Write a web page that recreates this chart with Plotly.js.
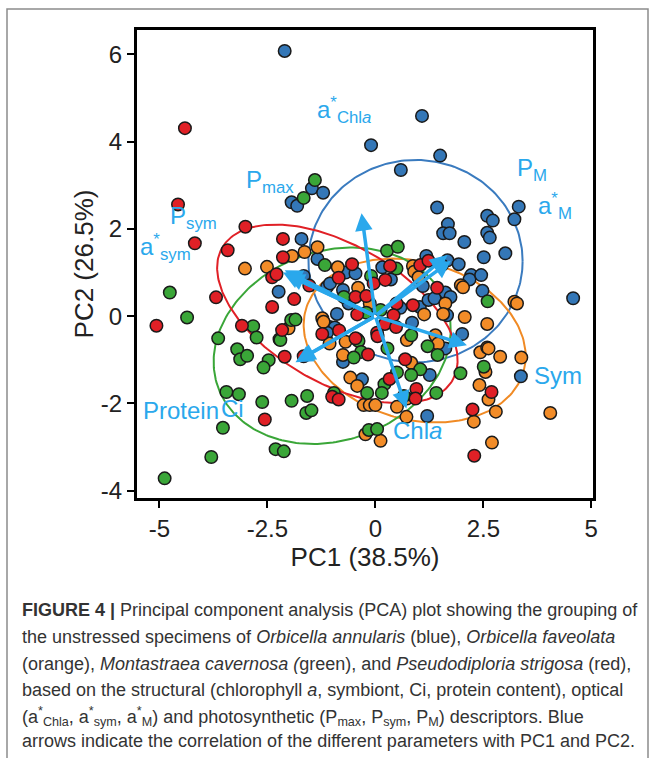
<!DOCTYPE html>
<html><head><meta charset="utf-8">
<script src="https://cdn.plot.ly/plotly-3.0.1.min.js"></script>
<style>html,body{margin:0;padding:0;background:#fff}#chart{width:655px;height:758px}</style>
</head><body><div id="chart"></div>
<script>
// ---- data ----
const blueX = [-2.10,-0.10,1.08,1.50,0.59,-1.47,-1.21,-1.94,-1.81,1.43,3.32,3.22,2.59,2.72,1.68,1.57,1.72,2.59,2.65,2.06,3.01,2.51,-1.71,-1.34,1.18,1.67,1.93,1.54,0.16,2.22,2.18,2.45,2.48,1.62,1.74,1.66,-1.66,-1.12,-1.05,-2.24,-0.89,-0.69,-0.46,0.36,1.10,-0.75,-0.62,0.58,1.03,1.23,1.37,0.85,2.01,1.62,3.37,4.58,1.26,-0.31,-0.75,1.20,-1.06,-0.94,-1.12];
const blueY = [6.08,3.92,4.59,3.68,3.35,2.93,2.83,2.61,2.53,2.49,2.51,2.22,2.30,2.19,2.11,1.90,1.90,1.91,1.80,1.70,1.44,1.35,1.77,1.31,1.38,1.28,1.19,1.17,1.12,0.94,0.84,0.94,0.58,0.54,0.44,0.02,0.92,0.67,0.75,0.56,0.05,1.00,0.98,0.84,0.69,0.60,0.29,0.19,0.21,0.37,0.41,-0.15,-0.41,-0.74,-1.38,0.41,-1.35,-1.45,-1.05,-2.29,-0.25,-0.26,-0.38];

const orangeX = [-1.93,-1.64,-1.34,-3.02,-2.51,-0.87,0.87,0.90,1.00,1.98,2.03,3.22,3.28,1.62,1.57,2.07,-2.01,-1.23,-0.40,-0.13,1.13,-0.69,-0.42,-0.75,0.73,1.39,0.83,-0.58,-0.42,0.73,-0.27,-0.13,0.00,0.50,0.72,-0.23,0.12,2.59,2.43,2.59,2.62,2.89,3.38,2.55,2.41,2.62,2.79,2.28,4.05,2.70,-1.20,-1.06,1.45];
const orangeY = [1.38,1.47,1.58,1.09,1.13,1.12,1.15,1.02,0.89,0.71,0.66,0.33,0.29,0.29,0.05,-0.02,-0.28,-0.05,0.65,0.29,0.04,-0.59,-0.53,-0.89,-0.55,-0.44,-1.07,-1.41,-1.60,-1.89,-2.04,-2.04,-2.04,-2.08,-2.31,-2.71,-2.86,-0.18,-0.83,-0.72,-0.74,-0.93,-0.95,-1.28,-1.58,-1.91,-2.19,-2.42,-2.22,-2.90,-0.13,-0.63,-0.63];

const greenX = [-1.40,-1.66,-1.17,0.27,0.52,2.60,-4.76,-4.36,-2.83,-2.75,-3.64,-3.20,-3.13,-2.97,-2.47,-2.59,-2.22,-1.95,-1.85,-3.45,-3.16,-2.62,-1.94,-1.58,-1.60,-1.48,-3.53,-2.31,-2.12,-3.80,-4.88,-0.96,-0.15,0.04,-0.19,0.49,-0.10,-0.73,-0.21,0.12,-0.39,-0.33,-0.50,0.28,0.83,1.21,1.44,1.04,0.50,0.83,0.21,0.15,0.66,1.41,-2.20,2.51,1.97];
const greenY = [3.12,2.71,1.17,1.50,1.59,0.34,0.54,-0.03,-0.23,-0.49,-0.51,-0.76,-0.99,-0.91,-1.01,-1.18,-0.53,-0.09,-0.08,-1.74,-1.79,-1.97,-1.94,-1.83,-2.22,-2.16,-2.56,-3.05,-3.10,-3.23,-3.72,-1.76,-2.61,-2.59,-1.76,1.09,0.92,0.44,0.08,0.14,-0.57,-0.82,-0.95,-0.74,-0.44,-0.69,-0.89,-1.22,-1.29,-1.35,-1.56,-1.76,-1.83,-1.76,-0.55,-1.16,-1.31];

const redX = [-4.41,-4.57,-4.18,-3.01,-3.42,-2.14,-2.14,-0.54,1.04,1.23,0.34,-2.39,-2.29,-1.53,-0.85,-1.88,-2.39,-3.69,-5.07,-3.09,-2.10,-1.66,-2.16,-2.56,-1.00,-0.85,-0.04,0.23,1.43,-0.46,-0.21,0.49,-0.42,0.42,0.87,-0.46,-0.17,0.04,0.05,0.22,0.48,0.69,0.33,0.95,0.93,2.69,2.25,2.29,-1.23,-0.84];
const redY = [4.31,2.56,1.67,2.05,1.51,1.77,1.35,1.19,1.17,1.27,1.15,0.89,0.96,0.70,0.88,0.39,0.21,0.43,-0.22,-0.22,-0.93,-0.92,-0.32,-2.37,-1.85,-1.91,0.75,0.83,0.65,0.44,0.46,0.29,0.04,0.02,0.25,-0.51,-0.88,-0.38,-0.46,-0.18,-0.25,-0.99,-1.44,-1.67,-1.89,-1.74,-2.14,-3.20,-0.41,-0.33];

// confidence ellipses: blue, orange, green, red
const ellipseCx = [0.93, 0.91, -1.00, -0.88];
const ellipseCy = [1.26, -0.56, -0.68, 0.05];
const ellipseA = [2.48, 2.62, 2.81, 3.07];
const ellipseB = [2.32, 1.81, 2.17, 1.59];
const ellipseAngleDeg = [0, -15.5, 19.6, -29.5];

// loading arrows (tips)
const loadingNames = ["a*Chla","Pmax","Psym","a*sym","Protein","Ci","Sym","Chla","PM","a*M"];
const loadingX = [-0.32,-2.10,-2.14,-2.05,-1.85,-1.80,2.12,0.72,1.67,1.75];
const loadingY = [2.36,1.05,1.00,0.95,-1.06,-1.02,-0.67,-2.12,1.40,1.27];

// variable labels
const varLabels = ["a<sup>*</sup><sub>Chl<i>a</i></sub>","P<sub>max</sub>","P<sub>sym</sub>","a<sup>*</sup><sub>sym</sub>","Protein","Ci","Sym","Chl<i>a</i>","P<sub>M</sub>","a<sup>*</sup><sub>M</sub>"];
const varLabelX = [-0.72,-2.45,-4.22,-4.87,-4.50,-3.30,4.24,0.97,3.62,4.15];
const varLabelY = [4.72,3.08,2.25,1.58,-2.17,-2.12,-1.36,-2.62,3.37,2.52];

const tickValsX = [-5,-2.5,0,2.5,5];
const tickTextX = ["-5","-2.5","0","2.5","5"];
const tickValsY = [-4,-2,0,2,4,6];
const tickTextY = ["-4","-2","0","2","4","6"];

const groupColors = ["#3477b7","#f28c28","#3aa638","#e02026"];
const ellipseColors = ["#3a7bbf","#f08a24","#3aa638","#e02026"];
const arrowColor = "#2aa8ec";
const fam = "Liberation Sans, Arial, sans-serif";

// ---- traces ----
const traces = [];
for (let i = 0; i < ellipseCx.length; i++) {
  const phi = ellipseAngleDeg[i] * Math.PI / 180;
  const ex = [], ey = [];
  for (let k = 0; k <= 240; k++) {
    const t = 2 * Math.PI * k / 240;
    const u = ellipseA[i] * Math.cos(t), v = ellipseB[i] * Math.sin(t);
    ex.push(ellipseCx[i] + u * Math.cos(phi) - v * Math.sin(phi));
    ey.push(ellipseCy[i] + u * Math.sin(phi) + v * Math.cos(phi));
  }
  traces.push({x: ex, y: ey, mode: "lines", line: {color: ellipseColors[i], width: 2}, hoverinfo: "skip", showlegend: false});
}
const groups = [[blueX, blueY], [orangeX, orangeY], [greenX, greenY], [redX, redY]];
groups.forEach((g, i) => {
  traces.push({x: g[0], y: g[1], mode: "markers", type: "scatter", showlegend: false,
    marker: {size: 12.5, color: groupColors[i], line: {color: "#1a1a1a", width: 1.5}}});
});

const annotations = [];
for (let i = 0; i < loadingX.length; i++) {
  annotations.push({x: loadingX[i], y: loadingY[i], xref: "x", yref: "y", ax: 0, ay: 0, axref: "x", ayref: "y",
    text: "", showarrow: true, arrowhead: 2, arrowsize: 1.0, arrowwidth: 3.5, arrowcolor: arrowColor});
}
for (let i = 0; i < varLabels.length; i++) {
  annotations.push({x: varLabelX[i], y: varLabelY[i], xref: "x", yref: "y", text: varLabels[i], showarrow: false,
    font: {family: fam, size: 24, color: arrowColor}});
}

// caption
const captionLines = [
  "<b>FIGURE 4 |</b> Principal component analysis (PCA) plot showing the grouping of",
  "the unstressed specimens of <i>Orbicella annularis</i> (blue), <i>Orbicella faveolata</i>",
  "(orange), <i>Montastraea cavernosa (</i>green), and <i>Pseudodiploria strigosa</i> (red),",
  "based on the structural (chlorophyll <i>a</i>, symbiont, Ci, protein content), optical",
  "(a<sup>*</sup><sub>Chla</sub>, a<sup>*</sup><sub>sym</sub>, a<sup>*</sup><sub>M</sub>) and photosynthetic (P<sub>max</sub>, P<sub>sym</sub>, P<sub>M</sub>) descriptors. Blue",
  "arrows indicate the correlation of the different parameters with PC1 and PC2."
];
const plotL = 137, plotR = 593, plotT = 30, plotB = 498;
const pw = plotR - plotL, ph = plotB - plotT;
const capY = [610, 637, 664, 690, 716, 741];
captionLines.forEach((s, i) => {
  annotations.push({xref: "paper", yref: "paper", x: (20 - plotL) / pw, y: (plotB - capY[i]) / ph,
    xanchor: "left", yanchor: "middle", showarrow: false, text: s, align: "left",
    font: {family: fam, size: 18, color: "#333"}});
});

const layout = {
  width: 655, height: 758,
  margin: {l: plotL, r: 655 - plotR, t: plotT, b: 758 - plotB, pad: 0},
  paper_bgcolor: "#fff", plot_bgcolor: "#fff",
  showlegend: false,
  xaxis: {range: [-5.52, 5.04], tickvals: tickValsX, ticktext: tickTextX, showgrid: false, zeroline: false,
    showline: true, mirror: true, linecolor: "#000", linewidth: 3, ticks: "outside", ticklen: 7, tickwidth: 2, tickcolor: "#000",
    tickfont: {family: fam, size: 24, color: "#222"},
    title: {text: "PC1 (38.5%)", font: {family: fam, size: 26, color: "#222"}, standoff: 4}},
  yaxis: {range: [-4.17, 6.56], tickvals: tickValsY, ticktext: tickTextY, showgrid: false, zeroline: false,
    showline: true, mirror: true, linecolor: "#000", linewidth: 3, ticks: "outside", ticklen: 7, tickwidth: 2, tickcolor: "#000",
    tickfont: {family: fam, size: 24, color: "#222"},
    title: {text: "PC2 (26.5%)", font: {family: fam, size: 26, color: "#222"}, standoff: 0}},
  shapes: [{type: "rect", xref: "paper", yref: "paper", x0: (7 - plotL) / pw, x1: (648 - plotL) / pw,
    y0: (plotB - 9) / ph, y1: (plotB - 775) / ph, line: {color: "#8c8c8c", width: 1.5}, layer: "below"}],
  annotations: annotations
};
Plotly.newPlot("chart", traces, layout, {displayModeBar: false, staticPlot: true});
</script></body></html>
